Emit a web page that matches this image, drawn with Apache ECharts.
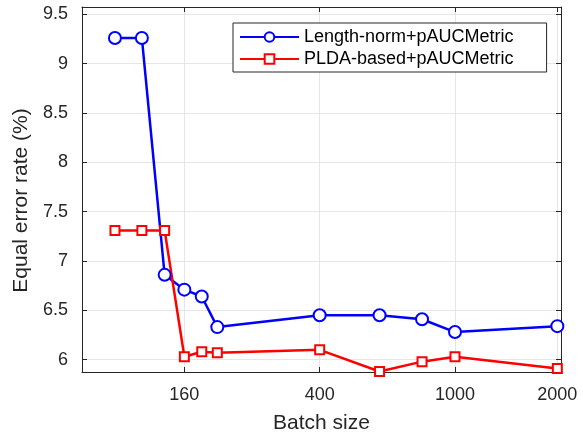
<!DOCTYPE html>
<html>
<head>
    <meta charset="utf-8">
    <title>EER vs batch size</title>
    <script src="https://cdn.jsdelivr.net/npm/echarts@6/dist/echarts.min.js"></script>
    <style>
        html, body { margin: 0; padding: 0; background: #fff; }
        #main { width: 583px; height: 432px; }
    </style>
</head>
<body>
<div id="main"></div>
<script type="text/javascript">
    // data
    var batchSizes = [100, 120, 140, 160, 180, 200, 400, 600, 800, 1000, 2000];
    var lengthNorm = [9.26, 9.26, 6.86, 6.71, 6.64, 6.33, 6.45, 6.45, 6.41, 6.28, 6.34];
    var pldaBased = [7.31, 7.31, 7.31, 6.03, 6.08, 6.07, 6.10, 5.88, 5.98, 6.03, 5.91];
    var xTicks = [160, 400, 1000, 2000];
    var yTicks = [6, 6.5, 7, 7.5, 8, 8.5, 9, 9.5];

    var axisColor = '#262626';
    var gridColor = '#e5e5e5';
    var font = 'Liberation Sans, Arial, Helvetica, sans-serif';

    function pairs(ys) {
        var out = [];
        for (var i = 0; i < batchSizes.length; i++) {
            out.push([batchSizes[i], ys[i]]);
        }
        return out;
    }

    var myChart = echarts.init(document.getElementById('main'));

    var xBase = {
        type: 'log',
        min: 80,
        max: 2050,
        axisLine: {show: true, lineStyle: {color: axisColor, width: 1}},
        axisTick: {show: true, inside: true, length: 5, customValues: xTicks, lineStyle: {color: axisColor}}
    };
    var yBase = {
        type: 'value',
        min: 5.875,
        max: 9.575,
        splitNumber: 7,
        axisLine: {show: true, lineStyle: {color: axisColor, width: 1}},
        axisTick: {show: true, inside: true, length: 5, customValues: yTicks, lineStyle: {color: axisColor}}
    };

    var option = {
        backgroundColor: '#fff',
        animation: false,
        textStyle: {fontFamily: font},
        grid: {left: 82, right: 22, top: 7, bottom: 60, outerBoundsMode: 'none', containLabel: false},
        legend: {
            orient: 'vertical',
            left: 233,
            top: 23,
            padding: [5, 33, 4, 6],
            itemGap: 4,
            itemWidth: 59,
            itemHeight: 12,
            borderColor: axisColor,
            borderWidth: 1,
            backgroundColor: '#fff',
            textStyle: {fontSize: 18, color: '#000', fontFamily: font, lineHeight: 18},
            data: ['Length-norm+pAUCMetric', 'PLDA-based+pAUCMetric']
        },
        xAxis: [
            echarts.util.merge({
                position: 'bottom',
                name: 'Batch size',
                nameLocation: 'middle',
                nameGap: 41,
                nameTextStyle: {fontSize: 21, color: axisColor},
                axisLabel: {
                    customValues: xTicks, fontSize: 18, color: axisColor, margin: 14,
                    formatter: function (v) { return String(v); }
                },
                splitLine: {show: true, lineStyle: {color: gridColor, width: 1}}
            }, xBase, true),
            echarts.util.merge({
                position: 'top',
                axisLabel: {show: false},
                splitLine: {show: false}
            }, xBase, true)
        ],
        yAxis: [
            echarts.util.merge({
                position: 'left',
                name: 'Equal error rate (%)',
                nameLocation: 'middle',
                nameGap: 50,
                nameTextStyle: {fontSize: 21, color: axisColor, padding: [0, 22, 0, 0]},
                axisLabel: {customValues: yTicks, fontSize: 18, color: axisColor, margin: 14},
                splitLine: {show: true, lineStyle: {color: gridColor, width: 1}}
            }, yBase, true),
            echarts.util.merge({
                position: 'right',
                axisLabel: {show: false},
                splitLine: {show: false}
            }, yBase, true)
        ],
        series: [{
            name: 'Length-norm+pAUCMetric',
            type: 'line',
            data: pairs(lengthNorm),
            symbol: 'emptyCircle',
            symbolSize: 12,
            color: '#0000ff',
            lineStyle: {width: 2.5, color: '#0000ff'},
            itemStyle: {color: '#0000ff', borderWidth: 2.5}
        }, {
            name: 'PLDA-based+pAUCMetric',
            type: 'line',
            data: pairs(pldaBased),
            symbol: 'emptyRect',
            symbolSize: 9,
            color: '#ff0000',
            lineStyle: {width: 2.5, color: '#ff0000'},
            itemStyle: {color: '#ff0000', borderWidth: 2.5}
        }]
    };
    myChart.setOption(option);
</script>
</body>
</html>
